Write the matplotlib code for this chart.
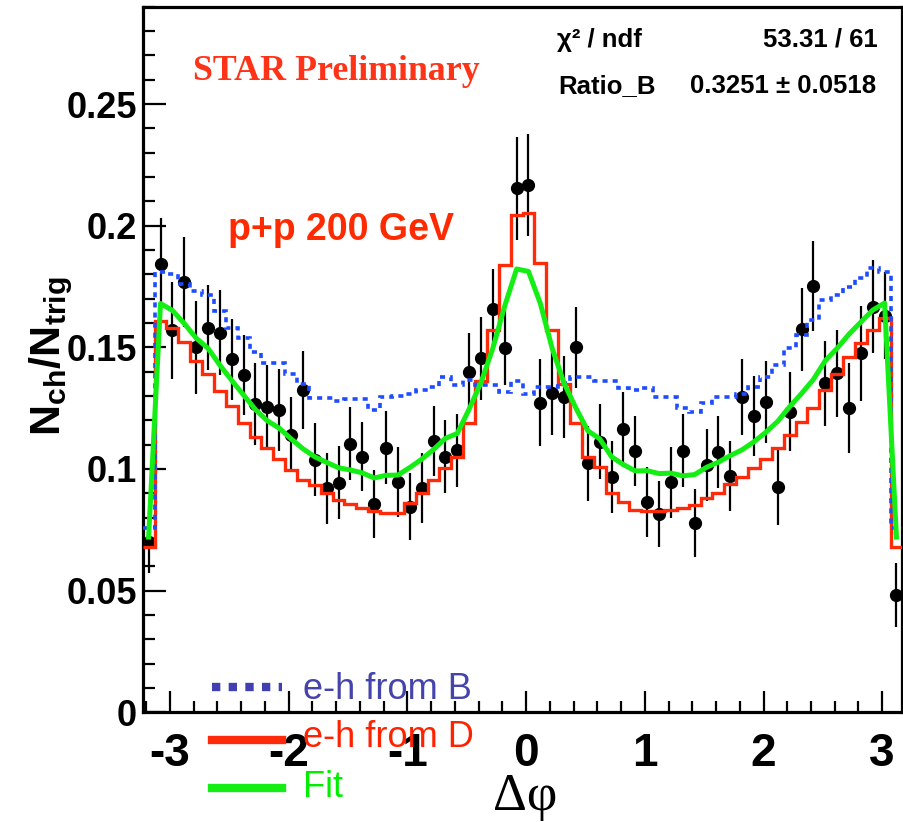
import numpy as np
import matplotlib
matplotlib.use('agg')
import matplotlib.pyplot as plt
from matplotlib.ticker import MultipleLocator, FuncFormatter
from matplotlib.lines import Line2D

plt.rcParams['font.family'] = ['Liberation Sans', 'DejaVu Sans']
plt.rcParams['font.weight'] = 'bold'
plt.rcParams['axes.unicode_minus'] = False
plt.rcParams['mathtext.fontset'] = 'custom'
plt.rcParams['mathtext.bf'] = 'Liberation Sans:bold'
plt.rcParams['mathtext.rm'] = 'Liberation Sans'

# binning of the delta-phi histograms
x_lo, bin_w, n_bins = -3.23, 0.1, 64
edges = x_lo + bin_w * np.arange(n_bins + 1)
centers = edges[:-1] + bin_w / 2

# data points (N_ch / N_trig) and errors
data_y = [0.0701, 0.1843, 0.157, 0.177, 0.150, 0.158, 0.156, 0.145, 0.1386, 0.1267,
          0.1256, 0.1242, 0.114, 0.1325, 0.1037, 0.092, 0.0944, 0.1103, 0.105, 0.0855,
          0.1088, 0.0948, 0.0845, 0.092, 0.1115, 0.105, 0.1078, 0.140, 0.1455, 0.1656,
          0.1499, 0.2154, 0.2167, 0.1273, 0.1314, 0.1295, 0.150, 0.1023, 0.1112, 0.0966,
          0.1164, 0.1075, 0.0866, 0.0815, 0.0945, 0.1075, 0.0777, 0.1016, 0.1069, 0.0971,
          0.1295, 0.1218, 0.1274, 0.0927, 0.1236, 0.1574, 0.1752, 0.1352, 0.1393, 0.125,
          0.1476, 0.1667, 0.163, 0.0482]
data_err = [0.0127, 0.0188, 0.020, 0.0185, 0.019, 0.0175, 0.0175, 0.0165, 0.0165, 0.017,
            0.017, 0.017, 0.0154, 0.016, 0.015, 0.0147, 0.015, 0.015, 0.0142, 0.014,
            0.015, 0.0144, 0.0137, 0.0144, 0.0144, 0.015, 0.015, 0.0158, 0.017, 0.0168,
            0.0154, 0.0212, 0.021, 0.0177, 0.0175, 0.0168, 0.0166, 0.0154, 0.0154, 0.0147,
            0.0154, 0.0144, 0.0144, 0.0137, 0.0147, 0.015, 0.014, 0.0147, 0.0147, 0.0144,
            0.0155, 0.0164, 0.0168, 0.0158, 0.0164, 0.0171, 0.0183, 0.0175, 0.0178, 0.0185,
            0.0195, 0.0192, 0.018, 0.013]

# e-h from D template
from_d = [0.068, 0.161, 0.158, 0.152, 0.1445, 0.139, 0.132, 0.126, 0.119, 0.113,
          0.1085, 0.104, 0.0996, 0.0955, 0.0934, 0.090, 0.0873, 0.0856, 0.0838, 0.0829,
          0.082, 0.0818, 0.0859, 0.0903, 0.0955, 0.1004, 0.105, 0.1188, 0.136, 0.157,
          0.184, 0.2044, 0.2054, 0.1845, 0.157, 0.135, 0.1188, 0.105, 0.101, 0.090,
          0.0866, 0.0832, 0.0829, 0.0829, 0.0832, 0.0838, 0.0852, 0.088, 0.090, 0.094,
          0.0968, 0.1003, 0.104, 0.1085, 0.114, 0.1194, 0.125, 0.1325, 0.139, 0.146,
          0.1517, 0.157, 0.162, 0.068]

# e-h from B template
from_b = [0.0756, 0.181, 0.180, 0.176, 0.173, 0.1715, 0.165, 0.158, 0.154, 0.148,
          0.1434, 0.1434, 0.139, 0.135, 0.129, 0.129, 0.128, 0.1288, 0.1288, 0.1242,
          0.1295, 0.130, 0.131, 0.1325, 0.1338, 0.138, 0.1345, 0.1366, 0.1345, 0.1345,
          0.1318, 0.136, 0.131, 0.1338, 0.1338, 0.1355, 0.138, 0.138, 0.136, 0.136,
          0.1332, 0.1325, 0.1332, 0.1297, 0.1297, 0.125, 0.1236, 0.127, 0.1295, 0.1295,
          0.131, 0.1338, 0.138, 0.1427, 0.1496, 0.155, 0.1612, 0.1695, 0.1715, 0.175,
          0.1784, 0.1825, 0.181, 0.0756]

# fit curve
fit = [0.072, 0.168, 0.1652, 0.1598, 0.1538, 0.1496, 0.1427, 0.1364, 0.1304, 0.1244,
       0.1198, 0.1168, 0.1124, 0.1083, 0.105, 0.1027, 0.1005, 0.0996, 0.0984, 0.0963,
       0.0974, 0.0975, 0.1006, 0.104, 0.108, 0.1126, 0.1146, 0.1246, 0.1355, 0.1497,
       0.167, 0.1822, 0.1812, 0.168, 0.1495, 0.1352, 0.125, 0.1157, 0.1124, 0.105,
       0.1018, 0.0992, 0.0993, 0.0981, 0.0983, 0.0972, 0.0977, 0.1007, 0.1028, 0.1055,
       0.1079, 0.1112, 0.1151, 0.1196, 0.1256, 0.131, 0.1368, 0.1445, 0.1496, 0.1554,
       0.1604, 0.1653, 0.1682, 0.072]

W, H = 904, 822
fig = plt.figure(figsize=(W / 100, H / 100), dpi=100)
ax = fig.add_axes([142.7 / W, 1 - 712.3 / H, (902.4 - 142.7) / W, (712.3 - 6.7) / H])

ax.errorbar(centers, data_y, yerr=data_err, fmt='o', color='black', ms=8.5,
            elinewidth=1.6, capsize=0, zorder=2)
ax.stairs(from_d, edges, baseline=None, color='#ff2a0a', lw=2.4, zorder=3)
ax.stairs(from_b, edges, baseline=None, color='#1f4cff', lw=2.6,
          ls=(0, (1.4, 1.4)), zorder=4)
ax.plot(centers, fit, color='#14ee14', lw=3.6, zorder=5)

ax.set_xlim(edges[0], edges[-1])
ax.set_ylim(0, 0.29)
ax.xaxis.set_major_locator(MultipleLocator(1))
ax.xaxis.set_minor_locator(MultipleLocator(0.2))
ax.yaxis.set_major_locator(MultipleLocator(0.05))
ax.yaxis.set_minor_locator(MultipleLocator(0.01))
fmt = FuncFormatter(lambda v, p: '%g' % round(v, 3))
ax.xaxis.set_major_formatter(fmt)
ax.yaxis.set_major_formatter(fmt)

ax.tick_params(which='both', direction='in', top=False, right=False)
ax.tick_params(axis='y', which='major', length=16.5, width=1.6, labelsize=26, pad=4)
ax.tick_params(axis='y', which='minor', length=8.5, width=1.6)
ax.tick_params(axis='x', which='major', length=15, width=1.6, labelsize=33, pad=14)
ax.tick_params(axis='x', which='minor', length=8, width=1.6)
for s in ax.spines.values():
    s.set_linewidth(2.3)

fig.text(193 / W, 1 - 80 / H, 'STAR Preliminary', family='Liberation Serif',
         weight='bold', size=25.8, color='#ff3318', va='baseline')
fig.text(228 / W, 1 - 240 / H, 'p+p 200 GeV', size=27, color='#ff2a00', va='baseline')

fig.text(557 / W, 1 - 46.7 / H, 'χ² / ndf', size=18.5, va='baseline')
fig.text(877.7 / W, 1 - 46.7 / H, '53.31 / 61', size=18.5, ha='right', va='baseline')
fig.text(558 / W, 1 - 93.3 / H, 'Ratio_B', size=18.5, va='baseline')
fig.text(876 / W, 1 - 93.3 / H, '0.3251 ± 0.0518', size=18.5, ha='right', va='baseline')

fig.text(51 / W, 1 - 356 / H,
         r'$\mathbf{N}_{\mathbf{ch}}\mathrm{/}\mathbf{N}_{\mathbf{trig}}$',
         rotation=90, ha='center', va='center', size=31)
fig.text(525 / W, 1 - 810 / H, 'Δφ', family='Liberation Serif', weight='normal',
         size=38, ha='center', va='baseline')

# legend drawn by hand, it sits over the bottom axis like in the original
leg = [('e-h from B', '#4040b0', '#4444aa', (0, (1, 1)), 686.7, 699.3),
       ('e-h from D', '#ff2a0a', '#ff2200', '-', 740, 747.3),
       ('Fit', '#14ee14', '#00ee00', '-', 787.7, 796.7)]
for label, lc, tc, ls, yl, yt in leg:
    fig.add_artist(Line2D([211.7 / W, 281.7 / W], [1 - yl / H] * 2,
                          transform=fig.transFigure, color=lc, lw=6, ls=ls))
    fig.text(303 / W, 1 - yt / H, label, color=tc, size=26, weight='normal',
             va='baseline')

fig.savefig('out.png', dpi=100)
